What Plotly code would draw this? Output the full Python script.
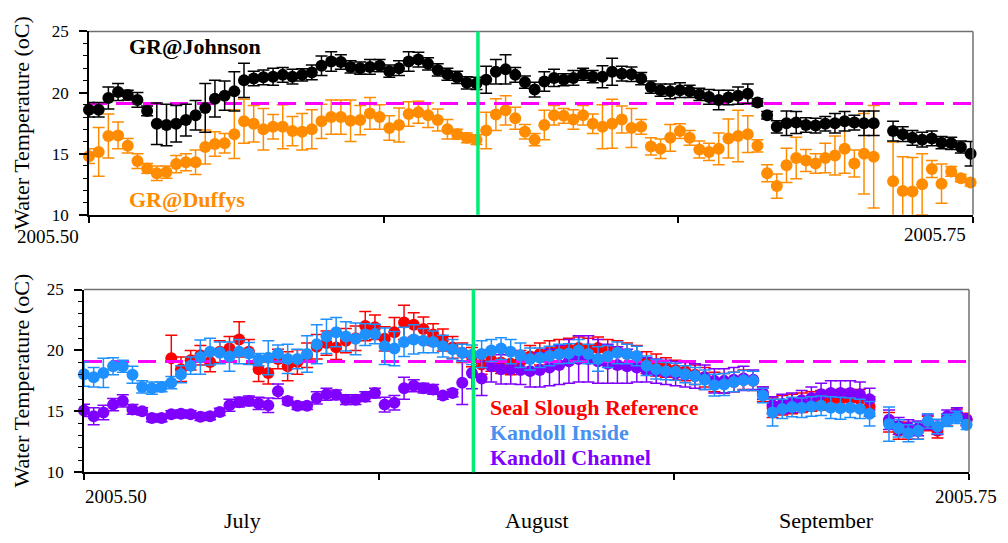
import plotly.graph_objects as go

# ---------------------------------------------------------------- data
# day offsets from 1 July 2005 (no record on day 82)
days = [d for d in range(92) if d != 82]

johnson = [18.6, 18.6, 19.55, 20.05, 19.8, 19.4, 18.5, 17.45, 17.35, 17.45,
           17.75, 18.15, 18.75, 19.5, 19.75, 20.1, 21.0, 21.15, 21.25, 21.3,
           21.45, 21.3, 21.45, 21.65, 22.2, 22.55, 22.5, 22.1, 22.0, 22.1,
           22.2, 21.75, 22.0, 22.55, 22.7, 22.35, 21.85, 21.5, 21.25, 20.8,
           20.75, 21.05, 21.7, 21.9, 21.45, 20.85, 20.25, 20.9, 21.2, 21.05,
           21.2, 21.5, 21.3, 21.3, 21.7, 21.55, 21.5, 21.15, 20.45, 20.2,
           20.1, 20.2, 20.1, 19.85, 19.65, 19.4, 19.6, 19.75, 19.9, 19.2,
           18.15, 17.2, 17.5, 17.55, 17.35, 17.3, 17.45, 17.5, 17.65, 17.55,
           17.5, 17.5,
           16.85, 16.6, 16.3, 16.15, 16.25, 15.9, 15.85, 15.55, 15.0]
johnson_err = [0.6, 0.6, 0.9, 0.7, 0.4, 0.6, 0.4, 1.7, 1.7, 1.5,
               1.3, 1.2, 2.0, 1.5, 1.2, 1.6, 1.4, 0.6, 0.6, 0.7,
               0.6, 0.6, 0.5, 0.6, 0.8, 0.8, 0.6, 0.5, 0.5, 0.6,
               0.5, 0.5, 0.6, 0.8, 0.6, 0.5, 0.5, 0.5, 0.5, 0.5,
               0.5, 1.1, 1.0, 1.2, 0.6, 0.5, 0.6, 0.8, 0.7, 0.5,
               0.6, 0.5, 0.5, 0.9, 1.1, 0.6, 0.6, 0.5, 0.5, 0.5,
               0.6, 0.6, 0.5, 0.5, 0.6, 0.8, 0.6, 0.7, 0.8, 0.3,
               0.3, 0.5, 1.0, 0.9, 0.6, 0.6, 0.6, 0.8, 0.8, 0.6,
               1.0, 1.0,
               0.8, 0.6, 0.6, 0.6, 0.6, 0.5, 0.5, 0.5, 1.0]

duffys = [14.8, 15.15, 16.45, 16.5, 15.65, 14.4, 13.8, 13.4, 13.5, 14.15,
          14.3, 14.3, 15.55, 15.8, 15.85, 16.6, 17.65, 17.45, 17.0, 17.2,
          17.2, 16.85, 16.8, 17.0, 17.65, 18.0, 18.0, 17.7, 17.75, 18.3,
          18.0, 17.1, 17.35, 18.25, 18.4, 18.15, 17.75, 17.0, 16.6, 16.3,
          16.15, 16.9, 18.2, 18.55, 17.9, 16.8, 16.15, 17.35, 18.15, 18.1,
          17.8, 18.15, 17.45, 17.2, 17.45, 17.8, 17.1, 17.2, 15.6, 15.4,
          16.3, 16.85, 16.3, 15.35, 15.15, 15.4, 16.25, 16.45, 16.6, 15.65,
          13.4, 12.35, 14.05, 14.65, 14.45, 14.2, 14.65, 14.85, 15.4, 14.2,
          15.0, 14.75,
          12.75, 11.95, 11.9, 12.5, 13.75, 12.55, 13.55, 13.0, 12.65]
duffys_err = [0.6, 2.0, 1.8, 1.1, 0.6, 0.6, 0.4, 0.6, 0.5, 0.7,
              0.7, 1.0, 1.4, 1.0, 0.8, 2.0, 1.8, 1.5, 1.7, 1.0,
              1.8, 1.2, 1.5, 1.6, 1.4, 1.4, 1.4, 1.7, 1.2, 1.3,
              1.0, 1.0, 1.4, 1.0, 0.9, 1.0, 0.9, 0.8, 0.4, 0.4,
              0.4, 1.5, 1.3, 1.2, 0.9, 0.6, 0.5, 1.2, 0.8, 0.6,
              0.8, 0.8, 0.8, 1.8, 2.0, 1.1, 1.6, 0.6, 0.7, 0.8,
              1.1, 0.6, 0.6, 0.7, 0.7, 1.3, 1.6, 2.1, 1.5, 0.5,
              0.7, 1.0, 1.4, 1.7, 0.9, 0.8, 1.2, 1.6, 2.0, 1.1,
              3.3, 4.2,
              3.2, 2.8, 2.8, 2.5, 0.7, 1.6, 0.4, 0.3, 0.3]

seal = [None, None, None, None, None, None, None, None, None, 19.35,
        18.45, 19.2, 19.6, 19.05, 19.9, 20.15, 20.9, 19.9, 18.45, 18.15,
        19.3, 18.7, 19.05, 19.6, 20.3, 20.6, 20.25, 20.8, 21.0, 22.0,
        21.9, 20.95, 21.5, 22.3, 22.1, 21.75, 21.3, 20.85, 20.25, 19.8,
        19.45, 18.85, 19.2, 19.0, 18.9, 19.1, 19.5, 19.7, 19.9, 20.0,
        20.1, 20.2, 20.1, 20.2, 20.0, 19.9, 19.7, 19.5, 19.0, 18.8,
        18.6, 18.4, 18.3, 18.0, 17.8, 17.4, 17.3, 17.4, 17.6, 17.5,
        16.4, 15.3, 15.5, 15.6, 15.7, 15.8, 15.9, 15.9, 16.0, 16.0,
        16.0, 15.4,
        14.1, 13.4, 13.4, 13.4, 14.0, 13.4, 14.3, 14.7, 14.35]
seal_err = [0, 0, 0, 0, 0, 0, 0, 0, 0, 1.9,
            1.0, 0.8, 0.8, 0.8, 0.9, 1.0, 1.45, 1.0, 1.0, 0.9,
            0.8, 1.2, 1.0, 1.0, 1.0, 1.0, 1.0, 1.0, 1.0, 1.2,
            1.0, 1.0, 1.2, 1.4, 1.0, 1.0, 0.9, 0.9, 0.9, 0.8,
            0.8, 0.8, 0.9, 0.9, 0.9, 0.9, 0.9, 0.9, 0.9, 0.9,
            0.9, 0.9, 0.9, 0.9, 0.9, 0.9, 0.9, 0.9, 0.9, 0.9,
            0.8, 0.8, 0.8, 0.8, 0.8, 0.8, 0.8, 0.8, 0.8, 0.8,
            0.6, 0.8, 0.8, 0.8, 0.8, 0.8, 0.8, 0.8, 0.8, 0.8,
            0.8, 0.8,
            0.8, 0.7, 0.7, 0.7, 0.6, 0.6, 0.5, 0.5, 0.5]

inside = [18.05, 17.8, 18.15, 18.7, 18.7, 18.0, 17.0, 16.9, 17.0, 17.35,
          18.05, 18.75, 19.45, 19.9, 19.8, 19.5, 19.9, 19.75, 19.25, 19.4,
          19.75, 19.3, 19.3, 19.7, 20.5, 21.15, 21.5, 21.15, 20.95, 21.3,
          21.35, 20.35, 20.15, 20.7, 20.9, 20.8, 20.7, 20.35, 20.1, 19.8,
          19.65, 19.7, 20.0, 20.15, 19.9, 19.6, 19.3, 19.4, 19.55, 19.7,
          19.75, 20.0, 19.7, 19.3, 19.5, 19.8, 19.7, 19.55, 18.75, 18.45,
          18.3, 18.25, 18.05, 17.9, 17.6, 17.15, 17.2, 17.4, 17.55, 17.5,
          16.3, 14.9, 15.2, 15.35, 15.3, 15.4, 15.45, 15.3, 15.25, 15.3,
          15.2, 14.8,
          13.95, 13.6, 13.2, 13.4, 14.2, 13.75, 14.25, 14.5, 13.9]
inside_err = [1.0, 0.8, 1.2, 0.7, 0.5, 0.7, 0.5, 0.5, 0.4, 0.5,
              0.7, 0.7, 1.4, 1.1, 0.9, 1.2, 1.0, 0.9, 0.5, 1.4,
              0.7, 1.2, 0.8, 1.5, 1.6, 1.4, 1.2, 1.2, 1.3, 0.9,
              0.8, 1.5, 1.4, 1.2, 1.2, 1.0, 0.9, 0.9, 0.8, 0.7,
              0.8, 1.1, 0.9, 0.9, 1.0, 1.0, 0.9, 0.8, 0.8, 0.8,
              0.8, 0.9, 0.8, 1.0, 0.9, 0.9, 0.8, 0.8, 0.8, 0.8,
              0.7, 0.7, 0.7, 0.7, 0.8, 0.9, 0.9, 0.8, 0.8, 0.8,
              0.6, 1.1, 0.8, 0.8, 0.8, 0.8, 0.8, 0.9, 0.9, 0.8,
              0.8, 1.0,
              1.4, 0.7, 0.7, 0.7, 0.6, 0.6, 0.5, 0.5, 0.4]

channel = [15.07, 14.6, 14.9, 15.55, 15.85, 15.15, 15.0, 14.45, 14.45, 14.75,
           14.8, 14.75, 14.55, 14.6, 14.95, 15.5, 15.75, 15.85, 15.65, 15.5,
           16.65, 15.85, 15.45, 15.45, 16.1, 16.4, 16.35, 15.95, 15.95, 16.2,
           16.5, 15.55, 15.7, 16.9, 17.1, 16.9, 16.8, 16.3, 16.5, 17.35,
           18.15, 17.7, 18.7, 18.45, 18.45, 18.4, 18.3, 18.4, 18.6, 18.8,
           19.1, 19.3, 19.3, 19.1, 18.9, 18.8, 18.7, 18.6, 18.4, 18.3,
           18.2, 18.1, 18.0, 17.9, 17.8, 17.5, 17.5, 17.6, 17.7, 17.6,
           16.5, 15.5, 15.6, 15.7, 15.9, 16.1, 16.4, 16.5, 16.5, 16.5,
           16.4, 16.0,
           14.3, 13.8, 13.7, 13.6, 14.1, 13.7, 14.6, 14.8, 14.3]
channel_err = [0.5, 0.7, 0.6, 0.5, 0.5, 0.4, 0.3, 0.3, 0.3, 0.3,
               0.3, 0.3, 0.3, 0.3, 0.3, 0.5, 0.4, 0.4, 0.5, 0.6,
               0.6, 0.3, 0.3, 0.3, 0.5, 0.5, 0.4, 0.4, 0.4, 0.4,
               0.4, 0.6, 0.6, 0.9, 0.5, 0.4, 0.4, 0.3, 0.3, 1.8,
               1.3, 1.4, 1.3, 1.2, 1.2, 1.2, 1.3, 1.4, 1.5, 1.6,
               1.8, 1.9, 1.9, 1.8, 1.6, 1.5, 1.4, 1.2, 1.0, 1.0,
               1.0, 1.0, 1.0, 1.0, 1.0, 1.0, 1.0, 1.0, 1.0, 0.8,
               0.5, 0.7, 0.8, 0.8, 0.8, 0.9, 0.9, 1.0, 1.0, 1.0,
               1.0, 0.9,
               0.8, 0.7, 0.6, 0.6, 0.6, 0.6, 0.5, 0.5, 0.5]

threshold = 19.1          # dashed reference temperature
event_time = 2005.61      # vertical marker
x_range = [2005.5, 2005.75]
x_ticks = [2005.5, 2005.5 + 1 / 12, 2005.5 + 2 / 12, 2005.75]
x_tick_text = ["2005.50", "2005.75"]
months = ["July", "August", "September"]
y_title = "Water Temperature (oC)"

# ---------------------------------------------------------------- styling
W, H = 1008, 543
SERIF = "Liberation Serif"
ORANGE = "#FF8C00"
RED = "#FF0000"
BLUE = "#1E90FF"
BLUE_TXT = "#4A90F0"
PURPLE = "#8000FF"
GREEN = "#00EE76"
MAGENTA = "#FF00FF"


def px(x):
    return x / W


def py(y):
    return 1 - y / H


xdec = [2005.5 + d / 365 for d in days]

fig = go.Figure()


def add_series(y, err, color, xa, ya):
    # error bars clipped to the plotting area
    fig.add_trace(go.Scatter(
        x=xdec, y=y, mode="markers", xaxis=xa, yaxis=ya,
        marker=dict(size=12, color="rgba(0,0,0,0)"),
        error_y=dict(type="data", array=err, visible=True, color=color,
                     thickness=1.5, width=6),
        cliponaxis=True, showlegend=False, hoverinfo="skip"))
    # markers allowed to sit over the frame
    fig.add_trace(go.Scatter(
        x=xdec, y=y, mode="markers", xaxis=xa, yaxis=ya,
        marker=dict(size=12, color=color),
        cliponaxis=False, showlegend=False, hoverinfo="x+y"))


def add_threshold(xa, ya):
    fig.add_trace(go.Scatter(
        x=x_range, y=[threshold, threshold], mode="lines", xaxis=xa, yaxis=ya,
        line=dict(color=MAGENTA, width=3, dash="18px,9px"),
        showlegend=False, hoverinfo="skip"))


add_series(duffys, duffys_err, ORANGE, "x", "y")
add_threshold("x", "y")
add_series(johnson, johnson_err, "black", "x", "y")

add_series(seal, seal_err, RED, "x2", "y2")
add_series(channel, channel_err, PURPLE, "x2", "y2")
add_threshold("x2", "y2")
add_series(inside, inside_err, BLUE, "x2", "y2")

xcommon = dict(range=x_range, tickvals=x_ticks, showticklabels=False,
               ticks="outside", ticklen=6, tickwidth=1.5, tickcolor="black",
               showline=True, linecolor="black", linewidth=1.5,
               showgrid=False, zeroline=False, fixedrange=True)
ycommon = dict(range=[10, 25], tickvals=[10, 15, 20, 25],
               ticks="outside", ticklen=8, tickwidth=1.5, tickcolor="black",
               minor=dict(dtick=1, ticks="outside", ticklen=4, tickwidth=1.2,
                          tickcolor="black", showgrid=False),
               tickfont=dict(family=SERIF, size=17, color="black"),
               ticklabelstandoff=7,
               showline=True, linecolor="black", linewidth=1.5,
               showgrid=False, zeroline=False, fixedrange=True)

fig.update_layout(
    width=W, height=H, margin=dict(l=0, r=0, t=0, b=0),
    paper_bgcolor="white", plot_bgcolor="white",
    font=dict(family=SERIF, color="black"),
    xaxis=dict(domain=[px(89), px(973)], anchor="y", **xcommon),
    yaxis=dict(domain=[py(213.3), py(23.3)], anchor="x", **ycommon),
    xaxis2=dict(domain=[px(84), px(969)], anchor="y2", **xcommon),
    yaxis2=dict(domain=[py(480), py(290.7)], anchor="x2", **ycommon),
)

shapes = []
for xa, ya in (("x", "y"), ("x2", "y2")):
    # upper and right frame edges
    shapes.append(dict(type="line", xref=f"{xa} domain", yref=f"{ya} domain",
                       x0=0, x1=1, y0=1, y1=1, line=dict(color="#707070", width=1.5)))
    shapes.append(dict(type="line", xref=f"{xa} domain", yref=f"{ya} domain",
                       x0=1, x1=1, y0=0, y1=1, line=dict(color="#707070", width=1.5)))
    # event marker
    shapes.append(dict(type="line", xref=xa, yref=f"{ya} domain",
                       x0=event_time, x1=event_time, y0=0, y1=1, layer="above",
                       line=dict(color=GREEN, width=3.5)))
fig.update_layout(shapes=shapes)

ann = []


def text(x, y, s, size, color="black", xanchor="center", angle=0):
    ann.append(dict(x=px(x), y=py(y), xref="paper", yref="paper", text=s,
                    showarrow=False, xanchor=xanchor, yanchor="middle",
                    textangle=angle,
                    font=dict(family=SERIF, size=size, color=color)))


# y-axis titles
text(22, 118, y_title, 22, angle=-90)
text(22, 385, y_title, 22, angle=-90)
# x tick labels
text(48, 236, x_tick_text[0], 19)
text(935, 234, x_tick_text[1], 19)
text(116, 505, x_tick_text[0], 19)
text(966, 505, x_tick_text[1], 19)
# month labels
for mx, m in zip([242, 537, 826], months):
    text(mx, 530, m, 22)
# series labels
text(127, 39, "<b>GR@Johnson</b>", 22, "black", "left")
text(127, 197, "<b>GR@Duffys</b>", 22, ORANGE, "left")
text(488, 413, "<b>Seal Slough Reference</b>", 22, RED, "left")
text(488, 439, "<b>Kandoll Inside</b>", 22, BLUE_TXT, "left")
text(488, 465, "<b>Kandoll Channel</b>", 22, PURPLE, "left")
fig.update_layout(annotations=ann)

fig.write_html("out.html")
